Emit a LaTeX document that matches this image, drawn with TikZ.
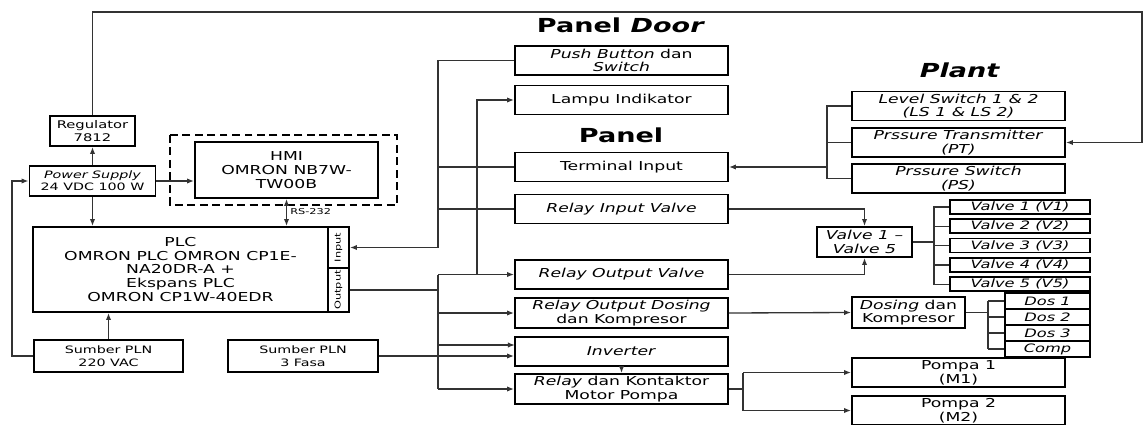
\documentclass[tikz,border=0pt]{standalone}
\usepackage{fontspec}
\setmainfont{DejaVu Sans}[FakeStretch=1.4]
\usepackage{tikz}
\usetikzlibrary{arrows.meta,positioning}
\tikzset{
  boxfont/.style={font=\fontsize{7}{7.8}\selectfont},
  smallfont/.style={font=\fontsize{5.8}{6.8}\selectfont},
  unit/.style={rectangle, draw=black, line width=1pt, align=center, inner sep=0pt, boxfont},
  midbox/.style={unit, minimum width=42.6mm, minimum height=5.8mm},
  valvebox/.style={unit, minimum width=28mm, minimum height=2.8mm, font=\fontsize{6.6}{7}\selectfont},
  dosbox/.style={unit, minimum width=17mm, minimum height=3.2mm, font=\fontsize{6.6}{7}\selectfont},
  heading/.style={font=\fontsize{11}{12}\selectfont\bfseries, inner sep=0pt},
  portlbl/.style={font=\fontsize{4.6}{5}\selectfont, inner sep=0pt},
  hmiframe/.style={draw=black, line width=1.1pt, dash pattern=on 4.5pt off 2.6pt},
  wire/.style={draw=black!80, line width=0.75pt},
  wirearr/.style={wire, -{Latex[length=4pt,width=3pt]}},
}

\begin{document}
\begin{tikzpicture}[x=0.2mm, y=-0.2mm]
  \useasboundingbox (0,0) rectangle (1143,425);
  \node[heading] (tdoor) at (621,25) {Panel \textit{Door}};
  \node[heading] (tpanel) at (621,135) {Panel};
  \node[heading] (tplant) at (960,70) {\textit{Plant}};

  \node[unit, font=\fontsize{6}{7}\selectfont, minimum width=17mm, minimum height=6mm] (reg) at (92.5,131) {Regulator\\7812};
  \node[unit, smallfont, minimum width=25.2mm, minimum height=6mm] (psu) at (92.5,181) {\textit{Power Supply}\\24 VDC 100 W};
  \node[unit, minimum width=36.6mm, minimum height=11.2mm] (hmi) at (286.5,170) {HMI\\OMRON NB7W-\\TW00B};
  \draw[hmiframe] (170,135) rectangle (397,205);
  \node[unit, minimum width=59mm, minimum height=17mm] (plc) at (180.5,269.5) {PLC\\OMRON PLC OMRON CP1E-\\NA20DR-A +\\Ekspans PLC\\OMRON CP1W-40EDR};
  \node[unit, minimum width=4.2mm, minimum height=8.2mm] (plcin) at (338.5,247.5) {};
  \node[unit, minimum width=4.2mm, minimum height=8.8mm] (plcout) at (338.5,290) {};
  \node[portlbl, rotate=90] (plcinlbl) at (plcin) {Input};
  \node[portlbl, rotate=90] (plcoutlbl) at (plcout) {Output};
  \node[portlbl, anchor=west] (rslbl) at (290,212) {RS-232};
  \node[unit, font=\fontsize{5.8}{7.6}\selectfont, minimum width=29.8mm, minimum height=6.4mm] (pln1) at (108.5,356) {Sumber PLN\\220 VAC};
  \node[unit, font=\fontsize{5.8}{7.6}\selectfont, minimum width=30mm, minimum height=6.4mm] (pln3) at (303,356) {Sumber PLN\\3 Fasa};

  \node[midbox] (pbs) at (621.5,60.5) {\textit{Push Button} dan\\\textit{Switch}};
  \node[midbox] (lamp) at (621.5,100) {Lampu Indikator};
  \node[midbox] (tin) at (621.5,167) {Terminal Input};
  \node[midbox] (riv) at (621.5,209) {\textit{Relay Input Valve}};
  \node[midbox] (rov) at (621.5,274.5) {\textit{Relay Output Valve}};
  \node[midbox, minimum height=6mm] (rod) at (621.5,313) {\textit{Relay Output Dosing}\\dan Kompresor};
  \node[midbox] (inv) at (621.5,351.5) {\textit{Inverter}};
  \node[midbox, minimum height=6mm] (rkm) at (621.5,389) {\textit{Relay} dan Kontaktor\\Motor Pompa};

  \node[midbox] (ls) at (958.5,106) {\textit{Level Switch 1 \& 2}\\\textit{(LS 1 \& LS 2)}};
  \node[midbox] (pt) at (958.5,142.5) {\textit{Prssure Transmitter}\\\textit{(PT)}};
  \node[midbox] (pss) at (958.5,178.5) {\textit{Prssure Switch}\\\textit{(PS)}};
  \node[unit, minimum width=19mm, minimum height=6mm] (vlv) at (864.5,242) {\textit{Valve 1 --}\\\textit{Valve 5}};
  \node[valvebox] (v1) at (1020,207) {\textit{Valve 1 (V1)}};
  \node[valvebox] (v2) at (1020,226.3) {\textit{Valve 2 (V2)}};
  \node[valvebox] (v3) at (1020,245.6) {\textit{Valve 3 (V3)}};
  \node[valvebox] (v4) at (1020,264.9) {\textit{Valve 4 (V4)}};
  \node[valvebox] (v5) at (1020,284.2) {\textit{Valve 5 (V5)}};
  \node[unit, minimum width=22.6mm, minimum height=6.2mm] (dos) at (908.5,312.5) {\textit{Dosing} dan\\Kompresor};
  \node[dosbox] (d1) at (1047.5,301) {\textit{Dos 1}};
  \node[dosbox] (d2) at (1047.5,317) {\textit{Dos 2}};
  \node[dosbox] (d3) at (1047.5,333) {\textit{Dos 3}};
  \node[dosbox] (cmp) at (1047.5,349) {\textit{Comp}};
  \node[midbox] (pm1) at (958.5,372.5) {Pompa 1\\(M1)};
  \node[midbox] (pm2) at (958.5,410.5) {Pompa 2\\(M2)};

  \coordinate (tr) at (1142,12);
  \coordinate (lbus) at (12,260);
  \coordinate (inb) at (438,247.5);
  \coordinate (outb) at (438,290);
  \coordinate (invin) at (515,345);
  \coordinate (lampbus) at (477,274.5);
  \coordinate (pbr) at (827,167);
  \coordinate (vbr) at (934,242);
  \coordinate (dbr) at (988,312.5);
  \coordinate (mbr) at (743,389);

  \draw[wirearr] (reg.north) |- (tr) |- (pt.east);
  \draw[wirearr] (psu) -- (reg);
  \draw[wirearr] (psu.east) -- (psu.east -| hmi.west);
  \draw[wirearr] (psu.south) -- (psu.south |- plc.north);
  \draw[wire, {Latex[length=4pt,width=3pt]}-{Latex[length=4pt,width=3pt]}] (hmi.south) -- (hmi.south |- plc.north);
  \draw[wirearr] (pln1.north) -- (pln1.north |- plc.south);
  \draw[wirearr] (pln1.west) -| (lbus) |- (psu.west);

  \draw[wirearr] (pbs.west) -| (inb) -- (plcin.east);
  \draw[wire] (tin.west) -- (tin.west -| inb);
  \draw[wire] (riv.west) -- (riv.west -| inb);
  \draw[wire] (plcout.east) -- (outb);
  \draw[wire] (outb |- rov.west) -- (outb |- rkm.west);
  \draw[wirearr] (outb |- rov.west) -- (rov.west);
  \draw[wirearr] (outb |- rod.west) -- (rod.west);
  \draw[wirearr] (outb |- invin) -- (invin);
  \draw[wirearr] (outb |- rkm.west) -- (rkm.west);
  \draw[wirearr] (lampbus) |- (lamp.west);
  \draw[wirearr] (pln3.east) -- (pln3.east -| inv.west);
  \draw[wirearr] (inv.south) -- (rkm.north);

  \draw[wire] (ls.west) -| (pbr |- pss.west) -- (pss.west);
  \draw[wire] (pt.west) -- (pt.west -| pbr);
  \draw[wirearr] (pbr) -- (tin.east);
  \draw[wirearr] (riv.east) -| (vlv.north);
  \draw[wirearr] (rov.east) -| (vlv.south);
  \draw[wire] (vlv.east) -- (vbr);
  \draw[wire] (v1.west) -| (vbr |- v5.west) -- (v5.west);
  \foreach \v in {v2,v3,v4}
    \draw[wire] (vbr |- \v.west) -- (\v.west);
  \draw[wirearr] (rod.east) -- (dos.west);
  \draw[wire] (dos.east) -- (dbr);
  \draw[wire] (dbr |- d1.west) -- (dbr |- cmp.west);
  \foreach \d in {d1,d2,d3,cmp}
    \draw[wire] (dbr |- \d.west) -- (\d.west);
  \draw[wire] (rkm.east) -- (mbr);
  \draw[wire] (mbr |- pm1.west) -- (mbr |- pm2.west);
  \draw[wirearr] (mbr |- pm1.west) -- (pm1.west);
  \draw[wirearr] (mbr |- pm2.west) -- (pm2.west);
\end{tikzpicture}
\end{document}
